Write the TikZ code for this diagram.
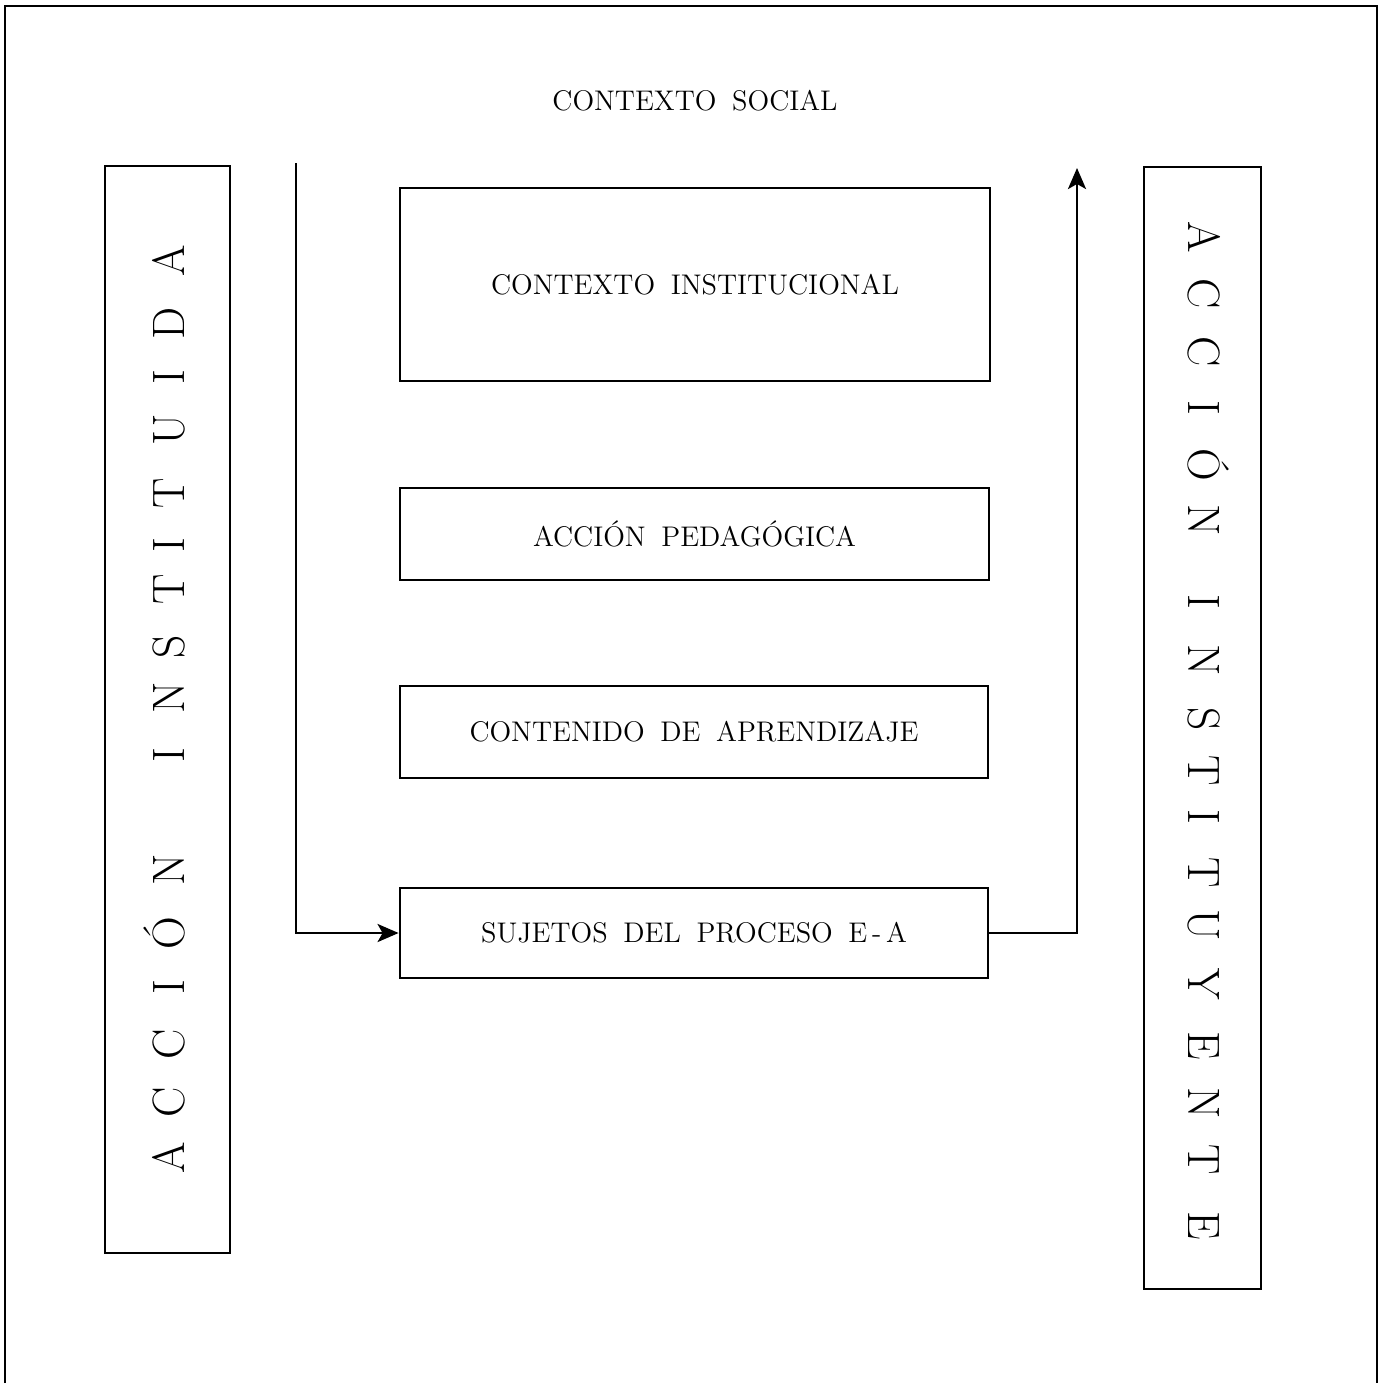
\documentclass[tikz,border=0pt]{standalone}
\usetikzlibrary{arrows.meta}
\newcommand{\boxfont}{\fontsize{14.2}{17}\selectfont\spaceskip=0.55em\relax}
\newcommand{\letterfont}{\fontsize{22.7}{27}\selectfont}
\begin{document}
\begin{tikzpicture}[x=0.5pt,y=-0.5pt,
  stagebox/.style={draw, line width=1.4pt, inner sep=0pt, font=\boxfont},
  sidebox/.style={draw, line width=1.4pt, inner sep=0pt},
  vletter/.style={inner sep=0pt, font=\letterfont, anchor=base},
  conn/.style={line width=1.4pt, -{Stealth[length=10.5pt,width=9pt,inset=2.5pt]}},
  frame/.style={line width=1.1pt}]
\useasboundingbox (0,0) rectangle (1385,1383);
% outer frame
\coordinate (fbl) at (5,1383);
\coordinate (ftl) at (5,6);
\coordinate (ftr) at (1377,6);
\coordinate (fbr) at (1377,1383);
\draw[frame] (fbl) -- (ftl) -- (ftr) -- (fbr);
% title
\node[font=\boxfont, inner sep=0pt] (social) at (695,101) {CONTEXTO SOCIAL};
% central boxes
\node[stagebox, minimum width=295pt, minimum height=96.5pt] (ci) at (695,284.5) {CONTEXTO INSTITUCIONAL};
\node[stagebox, minimum width=294.5pt, minimum height=46pt] (ap) at (694.5,534) {ACCIÓN PEDAGÓGICA};
\node[stagebox, minimum width=294pt, minimum height=46pt] (ca) at (694,732) {CONTENIDO DE APRENDIZAJE};
\node[stagebox, minimum width=294pt, minimum height=45pt] (su) at (694,933) {SUJETOS DEL PROCESO E\,-\,A};
% side boxes
\node[sidebox, minimum width=62.5pt, minimum height=543.5pt] (lbox) at (167.5,709.5) {};
\node[sidebox, minimum width=58.5pt, minimum height=561pt] (rbox) at (1202.5,728) {};
% vertical letters, left (bottom to top)
\foreach \ch/\yy [count=\i] in {A/1158, C/1102, C/1044, I/987, Ó/933, N/870, I/755, N/698, S/647, T/589, I/545, T/493, U/430, I/377, D/323, A/261}
  \node[vletter, rotate=90] (li\i) at (184,\yy) {\ch};
% vertical letters, right (top to bottom)
\foreach \ch/\yy [count=\i] in {A/237, C/294, C/352, I/408, Ó/465, N/520, I/602, N/660, S/719, T/771, I/817, T/873, U/925, Y/984, E/1046, N/1103, T/1160, E/1226}
  \node[vletter, rotate=-90] (ri\i) at (1188,\yy) {\ch};
% connectors
\coordinate (lstart) at (296,163);
\coordinate (rend) at (1077,168);
\draw[conn] (lstart) |- (su.west);
\draw[conn] (su.east) -| (rend);
\end{tikzpicture}
\end{document}
